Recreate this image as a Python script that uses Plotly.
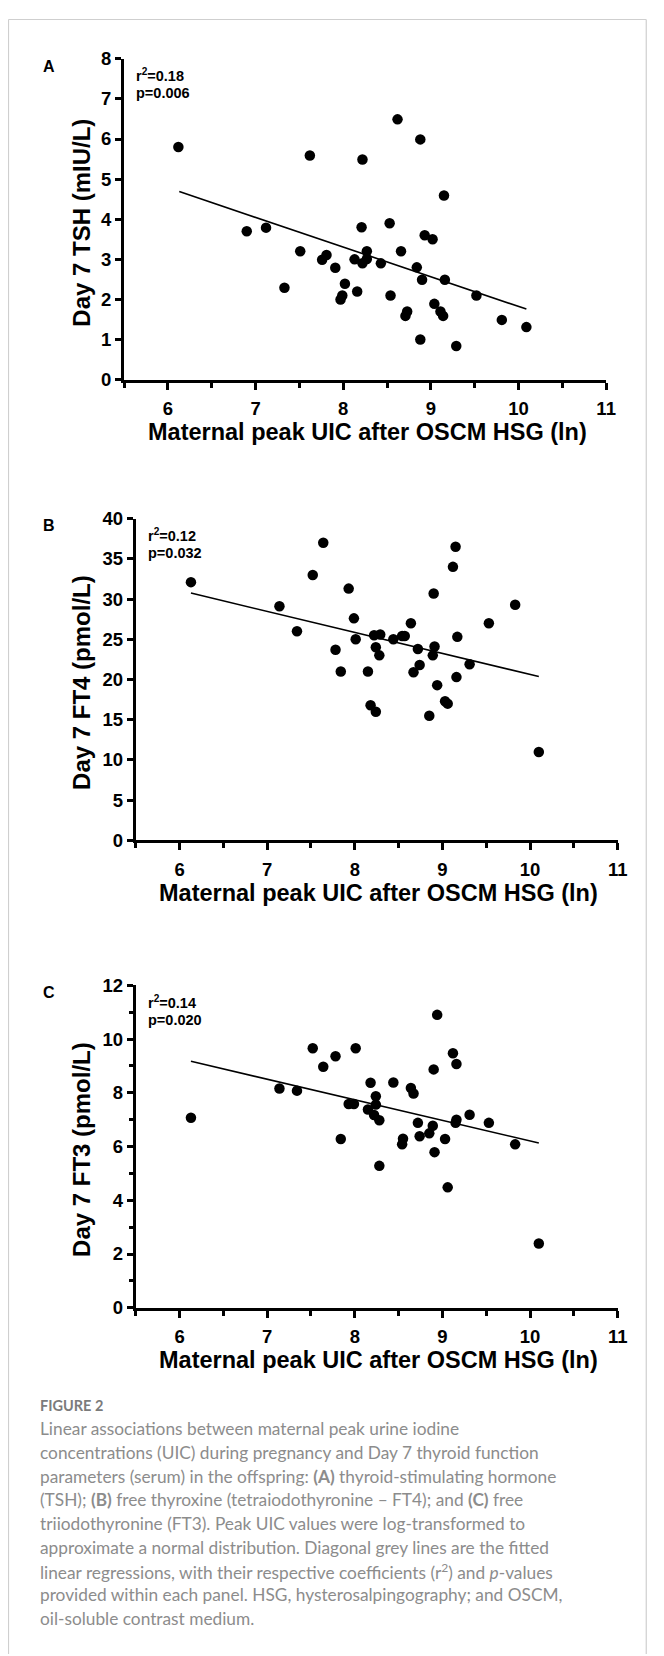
import plotly.graph_objects as go

# ---------------- data ----------------
# Panel A: TSH
a_x = [6.12, 6.90, 7.12, 7.33, 7.51, 7.62, 7.76, 7.81, 7.91, 7.97, 7.99, 8.02, 8.13, 8.16,
       8.21, 8.22, 8.22, 8.27, 8.27, 8.43, 8.53, 8.54, 8.62, 8.66, 8.71, 8.73, 8.84, 8.88,
       8.88, 8.90, 8.93, 9.02, 9.04, 9.11, 9.14, 9.15, 9.16, 9.29, 9.52, 9.81, 10.09]
a_y = [5.80, 3.70, 3.79, 2.29, 3.20, 5.59, 2.99, 3.11, 2.79, 2.00, 2.10, 2.39, 3.00, 2.20,
       3.80, 5.49, 2.90, 3.20, 3.01, 2.90, 3.90, 2.10, 6.49, 3.20, 1.59, 1.70, 2.80, 1.00,
       5.99, 2.49, 3.60, 3.50, 1.89, 1.70, 1.59, 4.59, 2.49, 0.84, 2.10, 1.49, 1.31]
fit_a_x = [6.13, 10.09]
fit_a_y = [4.69, 1.76]

# Panel B: FT4
b_x = [6.13, 7.14, 7.34, 7.52, 7.64, 7.78, 7.84, 7.93, 7.99, 8.01, 8.15, 8.18, 8.22, 8.24,
       8.24, 8.28, 8.29, 8.44, 8.54, 8.57, 8.64, 8.67, 8.72, 8.74, 8.85, 8.89, 8.90, 8.91,
       8.94, 9.03, 9.06, 9.12, 9.15, 9.16, 9.17, 9.31, 9.53, 9.83, 10.10]
b_y = [32.1, 29.1, 26.0, 33.0, 37.0, 23.7, 21.0, 31.3, 27.6, 25.0, 21.0, 16.8, 25.5, 24.0,
       16.0, 23.0, 25.6, 25.0, 25.4, 25.4, 27.0, 20.9, 23.8, 21.8, 15.5, 23.0, 30.7, 24.1,
       19.3, 17.3, 17.0, 34.0, 36.5, 20.3, 25.3, 21.9, 27.0, 29.3, 11.0]
fit_b_x = [6.13, 10.10]
fit_b_y = [30.74, 20.37]

# Panel C: FT3
c_x = [6.13, 7.14, 7.34, 7.52, 7.64, 7.78, 7.84, 7.93, 7.99, 8.01, 8.15, 8.18, 8.22, 8.24,
       8.24, 8.28, 8.28, 8.44, 8.54, 8.55, 8.64, 8.67, 8.72, 8.74, 8.85, 8.89, 8.90, 8.91,
       8.94, 9.03, 9.06, 9.12, 9.16, 9.15, 9.16, 9.31, 9.53, 9.83, 10.10]
c_y = [7.07, 8.16, 8.08, 9.66, 8.97, 9.36, 6.28, 7.58, 7.58, 9.66, 7.38, 8.37, 7.17, 7.87,
       7.56, 5.28, 6.98, 8.38, 6.08, 6.29, 8.18, 7.97, 6.88, 6.38, 6.49, 6.77, 8.87, 5.79,
       10.90, 6.28, 4.48, 9.47, 9.07, 6.88, 7.00, 7.18, 6.88, 6.08, 2.39]
fit_c_x = [6.13, 10.10]
fit_c_y = [9.17, 6.13]

x_title = "Maternal peak UIC after OSCM HSG (ln)"
y_titles = ["Day 7 TSH (mIU/L)", "Day 7 FT4 (pmol/L)", "Day 7 FT3 (pmol/L)"]
panel_letters = ["A", "B", "C"]
stats_r2 = ["0.18", "0.12", "0.14"]
stats_p = ["0.006", "0.032", "0.020"]
x_ticks = [6, 7, 8, 9, 10, 11]
y_ticks = [[0, 1, 2, 3, 4, 5, 6, 7, 8],
           [0, 5, 10, 15, 20, 25, 30, 35, 40],
           [0, 2, 4, 6, 8, 10, 12]]
y_ranges = [[0, 8], [0, 40], [0, 12]]

caption_head = "FIGURE 2"
caption_lines = [
    "Linear associations between maternal peak urine iodine",
    "concentrations (UIC) during pregnancy and Day 7 thyroid function",
    "parameters (serum) in the offspring: <b>(A)</b> thyroid-stimulating hormone",
    "(TSH); <b>(B)</b> free thyroxine (tetraiodothyronine \u2013 FT4); and <b>(C)</b> free",
    "triiodothyronine (FT3). Peak UIC values were log-transformed to",
    "approximate a normal distribution. Diagonal grey lines are the fitted",
    "linear regressions, with their respective coefficients (r<sup>2</sup>) and <i>p</i>-values",
    "provided within each panel. HSG, hysterosalpingography; and OSCM,",
    "oil-soluble contrast medium.",
]

# ---------------- layout geometry (page pixels) ----------------
W, H = 664, 1656
OFF = 8  # default page body margin that shifts the figure
FONT = "Arial, Liberation Sans, Helvetica, sans-serif"
CAP_FONT = "Lato, Open Sans, sans-serif"

# plot boxes: (left, right, top, bottom) in page px
boxes = [(125.8, 615.3, 48.3, 373.3),
         (137.7, 627.0, 514.0, 840.0),
         (137.7, 627.0, 986.7, 1313.3)]
minor_y = [None, None, 1]


def px_x(v):
    return (v - OFF) / W


def px_y(v):
    return 1 - (v - OFF) / H


fig = go.Figure()
series = [(a_x, a_y, fit_a_x, fit_a_y), (b_x, b_y, fit_b_x, fit_b_y), (c_x, c_y, fit_c_x, fit_c_y)]

annotations = []
for i, (sx, sy, fx, fy) in enumerate(series):
    n = "" if i == 0 else str(i + 1)
    xa, ya = "x" + n, "y" + n
    fig.add_trace(go.Scatter(x=fx, y=fy, mode="lines", xaxis=xa, yaxis=ya,
                             line=dict(color="black", width=1.6), showlegend=False,
                             hoverinfo="skip"))
    fig.add_trace(go.Scatter(x=sx, y=sy, mode="markers", xaxis=xa, yaxis=ya,
                             marker=dict(color="black", size=10.5, line=dict(width=0)),
                             showlegend=False))
    l, r, t, b = boxes[i]
    xaxis = dict(domain=[px_x(l), px_x(r)], range=[5.5, 11], anchor=ya,
                 tickmode="array", tickvals=x_ticks, ticktext=[str(v) for v in x_ticks],
                 showline=True, linecolor="black", linewidth=3, mirror=False,
                 ticks="outside", ticklen=7, tickwidth=2.5, tickcolor="black",
                 showgrid=False, zeroline=False, ticklabelstandoff=3,
                 tickfont=dict(family=FONT, size=18.5, color="black", weight="bold"),
                 minor=dict(dtick=0.5, tick0=5.5, ticks="outside", ticklen=5,
                            tickwidth=2.5, tickcolor="black", showgrid=False))
    yaxis = dict(domain=[px_y(b), px_y(t)], range=y_ranges[i], anchor=xa,
                 tickmode="array", tickvals=y_ticks[i], ticktext=[str(v) for v in y_ticks[i]],
                 showline=True, linecolor="black", linewidth=3,
                 ticks="outside", ticklen=6, tickwidth=2.5, tickcolor="black",
                 showgrid=False, zeroline=False,
                 tickfont=dict(family=FONT, size=18.5, color="black", weight="bold"))
    if minor_y[i]:
        yaxis["minor"] = dict(dtick=minor_y[i], ticks="outside", ticklen=4, tickwidth=2.5,
                              tickcolor="black", showgrid=False)
    fig.update_layout(**{"xaxis" + n: xaxis, "yaxis" + n: yaxis})

    # axis titles
    annotations.append(dict(text="<b>%s</b>" % x_title, xref="paper", yref="paper",
                            x=px_x((l + r) / 2 + 2), y=px_y(b + 53),
                            xanchor="center", yanchor="middle", showarrow=False,
                            font=dict(family=FONT, size=23.5, color="black")))
    annotations.append(dict(text="<b>%s</b>" % y_titles[i], xref="paper", yref="paper",
                            x=px_x(82.6), y=px_y((t + b) / 2 + 3), textangle=-90,
                            xanchor="center", yanchor="middle", showarrow=False,
                            font=dict(family=FONT, size=24, color="black")))
    # panel letter
    annotations.append(dict(text="<b>%s</b>" % panel_letters[i], xref="paper", yref="paper",
                            x=px_x(49.5), y=px_y(t + 7.5), xanchor="center", yanchor="middle",
                            showarrow=False, font=dict(family=FONT, size=16, color="black")))
    # stats
    annotations.append(dict(text="<b>r<sup>2</sup>=%s</b>" % stats_r2[i], xref="paper", yref="paper",
                            x=px_x(l + 10.5), y=px_y(t + 16.5), xanchor="left", yanchor="middle",
                            showarrow=False, font=dict(family=FONT, size=14.5, color="black")))
    annotations.append(dict(text="<b>p=%s</b>" % stats_p[i], xref="paper", yref="paper",
                            x=px_x(l + 10.5), y=px_y(t + 35), xanchor="left", yanchor="middle",
                            showarrow=False, font=dict(family=FONT, size=14.5, color="black")))

# caption
annotations.append(dict(text="<b>%s</b>" % caption_head, xref="paper", yref="paper",
                        x=px_x(38.5), y=px_y(1412.5), xanchor="left", yanchor="middle",
                        showarrow=False, font=dict(family=CAP_FONT, size=14.5, color="#7b7b7b")))
for k, line in enumerate(caption_lines):
    annotations.append(dict(text=line, xref="paper", yref="paper",
                            x=px_x(38.5), y=px_y(1436 + 24 * k), xanchor="left", yanchor="middle",
                            showarrow=False, font=dict(family=CAP_FONT, size=17.3, color="#8c8c8c")))

# card border
shapes = [
    dict(type="line", xref="paper", yref="paper", x0=px_x(8.5), x1=px_x(656), y0=px_y(8.5), y1=px_y(8.5),
         line=dict(color="#cfcfcf", width=1.2)),
    dict(type="line", xref="paper", yref="paper", x0=px_x(8.5), x1=px_x(8.5), y0=px_y(8.5), y1=px_y(1664),
         line=dict(color="#cfcfcf", width=1.2)),
    dict(type="line", xref="paper", yref="paper", x0=px_x(656), x1=px_x(656), y0=px_y(8.5), y1=px_y(1664),
         line=dict(color="#cfcfcf", width=1.2)),
]

fig.update_layout(width=W, height=H, margin=dict(l=0, r=0, t=0, b=0),
                  paper_bgcolor="white", plot_bgcolor="white",
                  annotations=annotations, shapes=shapes, showlegend=False)

fig.write_html("out.html")
